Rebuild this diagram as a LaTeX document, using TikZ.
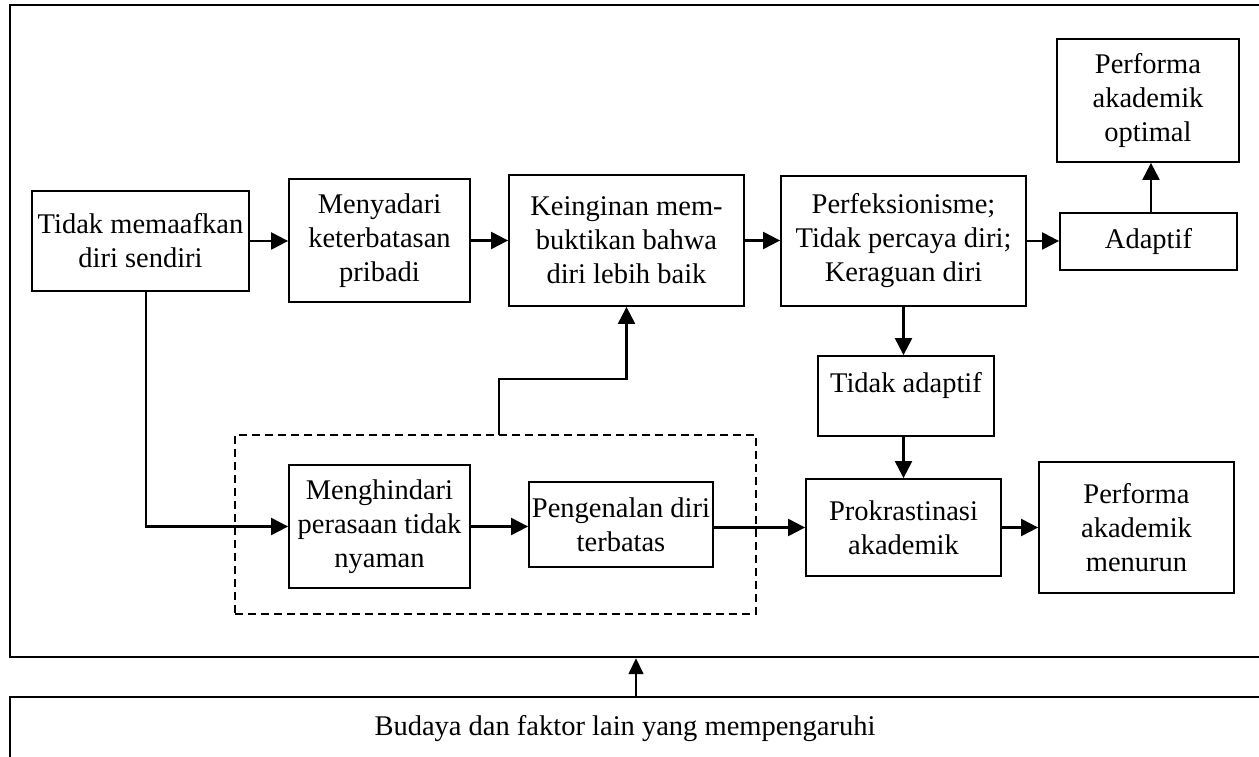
\documentclass[tikz,border=0pt]{standalone}
\usepackage{fontspec}
\setmainfont{Liberation Serif}
\usetikzlibrary{arrows.meta,calc}
\begin{document}
\begin{tikzpicture}[x=1pt,y=-1pt,
  txt/.style={font=\fontsize{28.5}{34}\selectfont, align=center},
  box/.style={txt, draw, line width=1.8pt, inner sep=0pt},
  group/.style={draw, line width=1.8pt, dash pattern=on 8pt off 5pt, inner sep=0pt},
  arr/.style={line width=2.2pt, -{Triangle[length=17pt,width=17pt]}},
  thinarr/.style={line width=1.5pt, -{Triangle[length=16pt,width=15pt]}}
]
\useasboundingbox (0,0) rectangle (1259,757);
\clip (0,0) rectangle (1259,757);

% outer frame and bottom box
\node[draw, line width=2.4pt, inner sep=0pt, minimum width=1255pt, minimum height=652pt] (frame) at (637.5,331) {};
\node[draw, line width=1.8pt, inner sep=0pt, minimum width=1255pt, minimum height=80pt] (ext) at (637.5,737) {};
\node[txt, anchor=base] (exttext) at (625,735) {Budaya dan faktor lain yang mempengaruhi};

% dashed group
\node[group, minimum width=521pt, minimum height=179pt] (grp) at (495.5,524.5) {};

% boxes
\node[box, minimum width=217pt, minimum height=100pt] (tidak) at (140.5,241) {Tidak memaafkan\\diri sendiri};
\node[box, minimum width=181pt, minimum height=123pt] (menyadari) at (379.5,240.5) {Menyadari\\keterbatasan\\pribadi};
\node[box, minimum width=235pt, minimum height=131pt] (keinginan) at (626.5,240.5) {Keinginan mem-\\buktikan bahwa\\diri lebih baik};
\node[box, minimum width=245pt, minimum height=130pt] (perf) at (903.5,241) {Perfeksionisme;\\Tidak percaya diri;\\Keraguan diri};
\node[box, minimum width=177pt, minimum height=57pt] (adaptif) at (1148.5,241.5) {Adaptif};
\node[box, minimum width=182pt, minimum height=123pt] (optimal) at (1148,100.5) {Performa\\akademik\\optimal};
\node[box, minimum width=176pt, minimum height=80pt] (tadaptif) at (906,396) {};
\node[txt, anchor=base] (tadaptiftext) at (906,392) {Tidak adaptif};
\node[box, minimum width=195pt, minimum height=97pt] (prok) at (903.5,527.5) {Prokrastinasi\\akademik};
\node[box, minimum width=195pt, minimum height=131pt] (menurun) at (1136.5,527.5) {Performa\\akademik\\menurun};
\node[box, minimum width=181pt, minimum height=123pt] (menghindari) at (379.5,526.5) {Menghindari\\perasaan tidak\\nyaman};
\node[box, minimum width=184pt, minimum height=85pt] (pengenalan) at (621,524.5) {Pengenalan diri\\terbatas};

% connectors
\draw[arr] (tidak.east) -- (tidak.east -| menyadari.west);
\draw[arr] (menyadari.east) -- (menyadari.east -| keinginan.west);
\draw[arr] (keinginan.east) -- (keinginan.east -| perf.west);
\draw[arr] (perf.east) -- (perf.east -| adaptif.west);
\coordinate (aup) at (1151,213);
\draw[arr] (aup) -- (aup |- optimal.south);
\draw[arr] (perf.south) -- (perf.south |- tadaptif.north);
\draw[arr] (prok.north |- tadaptif.south) -- (prok.north);
\coordinate (tdown) at (146,291);
\draw[arr] (tdown) |- (menghindari.west);
\draw[arr] (menghindari.east) -- (menghindari.east -| pengenalan.west);
\draw[arr] (pengenalan.east |- prok.west) -- (prok.west);
\draw[arr] (prok.east) -- (prok.east -| menurun.west);
\coordinate (gtop) at (499,435);
\draw[arr] (gtop) -- ++(0,-56) -| (keinginan.south);
\coordinate (etop) at (636,697);
\draw[thinarr] (etop) -- (etop |- frame.south);
\end{tikzpicture}
\end{document}
